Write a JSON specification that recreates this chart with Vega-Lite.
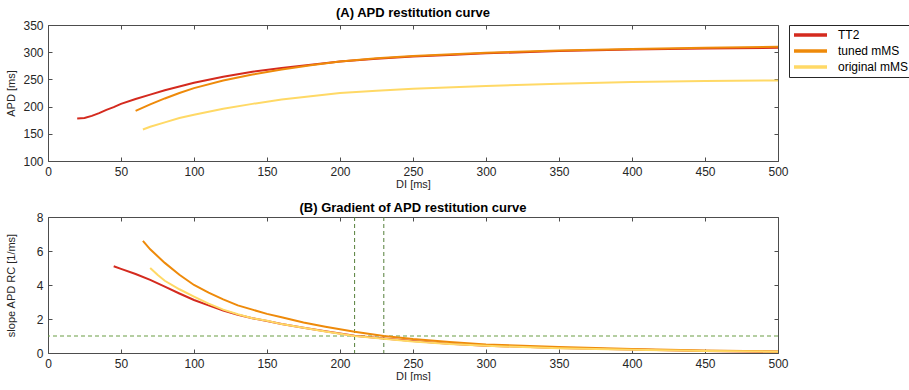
{
  "$schema": "https://vega.github.io/schema/vega-lite/v6.json",
  "padding": {"left": 5, "top": 7, "right": 0, "bottom": 0},
  "background": "white",
  "config": {
    "font": "Liberation Sans",
    "view": {"stroke": null},
    "axis": {
      "grid": false,
      "labelFont": "Liberation Sans",
      "labelFontSize": 12,
      "labelColor": "#262626",
      "labelFlush": false,
      "titleFont": "Liberation Sans",
      "titleFontSize": 11,
      "titleFontWeight": "normal",
      "titleColor": "#262626",
      "domainColor": "#4d4d4d",
      "tickColor": "#4d4d4d",
      "tickSize": -4,
      "labelPadding": 9
    },
    "title": {"font": "Liberation Sans", "fontSize": 13, "fontWeight": "bold", "color": "#000000", "offset": -1},
    "concat": {"spacing": 13}
  },
  "datasets": {
    "apd": [
      {"model": "TT2", "DI": 20, "APD": 178},
      {"model": "TT2", "DI": 25, "APD": 179},
      {"model": "TT2", "DI": 30, "APD": 183},
      {"model": "TT2", "DI": 35, "APD": 188},
      {"model": "TT2", "DI": 40, "APD": 194},
      {"model": "TT2", "DI": 45, "APD": 199},
      {"model": "TT2", "DI": 50, "APD": 205},
      {"model": "TT2", "DI": 60, "APD": 214},
      {"model": "TT2", "DI": 70, "APD": 222},
      {"model": "TT2", "DI": 80, "APD": 230},
      {"model": "TT2", "DI": 90, "APD": 237},
      {"model": "TT2", "DI": 100, "APD": 244},
      {"model": "TT2", "DI": 120, "APD": 255},
      {"model": "TT2", "DI": 140, "APD": 264},
      {"model": "TT2", "DI": 160, "APD": 271},
      {"model": "TT2", "DI": 180, "APD": 277},
      {"model": "TT2", "DI": 200, "APD": 283},
      {"model": "TT2", "DI": 225, "APD": 288},
      {"model": "TT2", "DI": 250, "APD": 292},
      {"model": "TT2", "DI": 275, "APD": 295},
      {"model": "TT2", "DI": 300, "APD": 298},
      {"model": "TT2", "DI": 350, "APD": 302},
      {"model": "TT2", "DI": 400, "APD": 305},
      {"model": "TT2", "DI": 450, "APD": 307},
      {"model": "TT2", "DI": 500, "APD": 308},
      {"model": "tuned mMS", "DI": 60, "APD": 192},
      {"model": "tuned mMS", "DI": 70, "APD": 204},
      {"model": "tuned mMS", "DI": 80, "APD": 215},
      {"model": "tuned mMS", "DI": 90, "APD": 225},
      {"model": "tuned mMS", "DI": 100, "APD": 234},
      {"model": "tuned mMS", "DI": 120, "APD": 248},
      {"model": "tuned mMS", "DI": 140, "APD": 259},
      {"model": "tuned mMS", "DI": 160, "APD": 268},
      {"model": "tuned mMS", "DI": 180, "APD": 276},
      {"model": "tuned mMS", "DI": 200, "APD": 283},
      {"model": "tuned mMS", "DI": 225, "APD": 289},
      {"model": "tuned mMS", "DI": 250, "APD": 293},
      {"model": "tuned mMS", "DI": 300, "APD": 299},
      {"model": "tuned mMS", "DI": 350, "APD": 303},
      {"model": "tuned mMS", "DI": 400, "APD": 306},
      {"model": "tuned mMS", "DI": 450, "APD": 308},
      {"model": "tuned mMS", "DI": 500, "APD": 310},
      {"model": "original mMS", "DI": 65, "APD": 158},
      {"model": "original mMS", "DI": 70, "APD": 163},
      {"model": "original mMS", "DI": 80, "APD": 171},
      {"model": "original mMS", "DI": 90, "APD": 179},
      {"model": "original mMS", "DI": 100, "APD": 185},
      {"model": "original mMS", "DI": 120, "APD": 196},
      {"model": "original mMS", "DI": 140, "APD": 205},
      {"model": "original mMS", "DI": 160, "APD": 213},
      {"model": "original mMS", "DI": 180, "APD": 219},
      {"model": "original mMS", "DI": 200, "APD": 225},
      {"model": "original mMS", "DI": 225, "APD": 229},
      {"model": "original mMS", "DI": 250, "APD": 233},
      {"model": "original mMS", "DI": 300, "APD": 238},
      {"model": "original mMS", "DI": 350, "APD": 242},
      {"model": "original mMS", "DI": 400, "APD": 245},
      {"model": "original mMS", "DI": 450, "APD": 247},
      {"model": "original mMS", "DI": 500, "APD": 248}
    ],
    "slope": [
      {"model": "TT2", "DI": 45, "slope": 5.1},
      {"model": "TT2", "DI": 50, "slope": 4.95},
      {"model": "TT2", "DI": 60, "slope": 4.65},
      {"model": "TT2", "DI": 70, "slope": 4.3},
      {"model": "TT2", "DI": 80, "slope": 3.9},
      {"model": "TT2", "DI": 90, "slope": 3.5},
      {"model": "TT2", "DI": 100, "slope": 3.12},
      {"model": "TT2", "DI": 110, "slope": 2.8},
      {"model": "TT2", "DI": 120, "slope": 2.5},
      {"model": "TT2", "DI": 130, "slope": 2.25},
      {"model": "TT2", "DI": 140, "slope": 2.05},
      {"model": "TT2", "DI": 150, "slope": 1.88},
      {"model": "TT2", "DI": 160, "slope": 1.7},
      {"model": "TT2", "DI": 175, "slope": 1.48},
      {"model": "TT2", "DI": 190, "slope": 1.28},
      {"model": "TT2", "DI": 210, "slope": 1.02},
      {"model": "TT2", "DI": 230, "slope": 0.86},
      {"model": "TT2", "DI": 250, "slope": 0.7},
      {"model": "TT2", "DI": 275, "slope": 0.55},
      {"model": "TT2", "DI": 300, "slope": 0.43},
      {"model": "TT2", "DI": 350, "slope": 0.3},
      {"model": "TT2", "DI": 400, "slope": 0.2},
      {"model": "TT2", "DI": 450, "slope": 0.12},
      {"model": "TT2", "DI": 500, "slope": 0.07},
      {"model": "tuned mMS", "DI": 65, "slope": 6.6},
      {"model": "tuned mMS", "DI": 70, "slope": 6.1},
      {"model": "tuned mMS", "DI": 80, "slope": 5.3},
      {"model": "tuned mMS", "DI": 90, "slope": 4.6},
      {"model": "tuned mMS", "DI": 100, "slope": 4.0},
      {"model": "tuned mMS", "DI": 110, "slope": 3.55},
      {"model": "tuned mMS", "DI": 120, "slope": 3.15},
      {"model": "tuned mMS", "DI": 130, "slope": 2.8},
      {"model": "tuned mMS", "DI": 140, "slope": 2.55},
      {"model": "tuned mMS", "DI": 150, "slope": 2.3},
      {"model": "tuned mMS", "DI": 160, "slope": 2.1},
      {"model": "tuned mMS", "DI": 175, "slope": 1.8},
      {"model": "tuned mMS", "DI": 190, "slope": 1.55},
      {"model": "tuned mMS", "DI": 210, "slope": 1.25},
      {"model": "tuned mMS", "DI": 230, "slope": 1.0},
      {"model": "tuned mMS", "DI": 250, "slope": 0.82},
      {"model": "tuned mMS", "DI": 275, "slope": 0.65},
      {"model": "tuned mMS", "DI": 300, "slope": 0.5},
      {"model": "tuned mMS", "DI": 350, "slope": 0.35},
      {"model": "tuned mMS", "DI": 400, "slope": 0.23},
      {"model": "tuned mMS", "DI": 450, "slope": 0.15},
      {"model": "tuned mMS", "DI": 500, "slope": 0.09},
      {"model": "original mMS", "DI": 70, "slope": 5.0},
      {"model": "original mMS", "DI": 75, "slope": 4.6},
      {"model": "original mMS", "DI": 80, "slope": 4.25},
      {"model": "original mMS", "DI": 90, "slope": 3.75},
      {"model": "original mMS", "DI": 100, "slope": 3.32},
      {"model": "original mMS", "DI": 110, "slope": 2.9},
      {"model": "original mMS", "DI": 120, "slope": 2.55},
      {"model": "original mMS", "DI": 130, "slope": 2.28},
      {"model": "original mMS", "DI": 140, "slope": 2.05},
      {"model": "original mMS", "DI": 150, "slope": 1.9},
      {"model": "original mMS", "DI": 160, "slope": 1.7},
      {"model": "original mMS", "DI": 175, "slope": 1.48},
      {"model": "original mMS", "DI": 190, "slope": 1.27},
      {"model": "original mMS", "DI": 210, "slope": 1.0},
      {"model": "original mMS", "DI": 230, "slope": 0.84},
      {"model": "original mMS", "DI": 250, "slope": 0.68},
      {"model": "original mMS", "DI": 275, "slope": 0.53},
      {"model": "original mMS", "DI": 300, "slope": 0.42},
      {"model": "original mMS", "DI": 350, "slope": 0.28},
      {"model": "original mMS", "DI": 400, "slope": 0.19},
      {"model": "original mMS", "DI": 450, "slope": 0.12},
      {"model": "original mMS", "DI": 500, "slope": 0.08}
    ],
    "threshold": [{"slope": 1}],
    "crossings": [{"DI": 210}, {"DI": 230}]
  },
  "vconcat": [
    {
      "width": 730,
      "height": 136,
      "title": "(A) APD restitution curve",
      "layer": [
        {
          "data": {"name": "apd"},
          "mark": {"type": "line", "strokeWidth": 2},
          "encoding": {
            "x": {"field": "DI", "type": "quantitative", "title": "DI [ms]",
                  "scale": {"domain": [0, 500], "nice": false},
                  "axis": {"values": [0, 50, 100, 150, 200, 250, 300, 350, 400, 450, 500], "titlePadding": 1}},
            "y": {"field": "APD", "type": "quantitative", "title": "APD [ms]",
                  "scale": {"domain": [100, 350], "nice": false, "zero": false},
                  "axis": {"values": [100, 150, 200, 250, 300, 350], "titlePadding": 6}},
            "color": {"field": "model", "type": "nominal",
                      "scale": {"domain": ["TT2", "tuned mMS", "original mMS"], "range": ["#D42A1E", "#EE8A0A", "#FFD966"]},
                      "legend": {"title": null, "orient": "right", "offset": 7, "strokeColor": "#262626", "fillColor": "white",
                                 "padding": 3, "symbolType": "M-1,0H5.6", "symbolSize": 100, "symbolStrokeWidth": 3.5,
                                 "labelFontSize": 12, "labelColor": "#000000", "labelOffset": 32, "rowPadding": 2}},
            "detail": {"field": "model"}
          }
        },
        {
          "data": {"name": "apd"},
          "mark": {"type": "line", "opacity": 0},
          "encoding": {
            "x": {"field": "DI", "type": "quantitative", "scale": {"domain": [0, 500], "nice": false}, "axis": {"orient": "top", "labels": false, "title": null, "values": [0, 50, 100, 150, 200, 250, 300, 350, 400, 450, 500]}},
            "y": {"field": "APD", "type": "quantitative", "scale": {"domain": [100, 350], "nice": false, "zero": false}, "axis": {"orient": "right", "labels": false, "title": null, "values": [100, 150, 200, 250, 300, 350]}},
            "detail": {"field": "model"}
          }
        }
      ],
      "resolve": {"axis": {"x": "independent", "y": "independent"}}
    },
    {
      "width": 730,
      "height": 136,
      "title": {"text": "(B) Gradient of APD restitution curve", "offset": -4},
      "layer": [
        {
          "data": {"name": "slope"},
          "mark": {"type": "line", "opacity": 0},
          "encoding": {
            "x": {"field": "DI", "type": "quantitative", "title": "DI [ms]",
                  "scale": {"domain": [0, 500], "nice": false},
                  "axis": {"values": [0, 50, 100, 150, 200, 250, 300, 350, 400, 450, 500], "titlePadding": 1}},
            "y": {"field": "slope", "type": "quantitative", "title": "slope APD RC [1/ms]",
                  "scale": {"domain": [0, 8], "nice": false},
                  "axis": {"values": [0, 2, 4, 6, 8], "titlePadding": 20}},
            "detail": {"field": "model"}
          }
        },
        {
          "data": {"name": "slope"},
          "mark": {"type": "line", "opacity": 0},
          "encoding": {
            "x": {"field": "DI", "type": "quantitative", "scale": {"domain": [0, 500], "nice": false}, "axis": {"orient": "top", "labels": false, "title": null, "values": [0, 50, 100, 150, 200, 250, 300, 350, 400, 450, 500]}},
            "y": {"field": "slope", "type": "quantitative", "scale": {"domain": [0, 8], "nice": false}, "axis": {"orient": "right", "labels": false, "title": null, "values": [0, 2, 4, 6, 8]}},
            "detail": {"field": "model"}
          }
        },
        {
          "data": {"name": "threshold"},
          "mark": {"type": "rule", "color": "#6A9E45", "strokeWidth": 1.2, "strokeDash": [4, 3]},
          "encoding": {"y": {"field": "slope", "type": "quantitative", "axis": null}}
        },
        {
          "data": {"name": "crossings"},
          "mark": {"type": "rule", "color": "#557F3A", "strokeWidth": 1, "strokeDash": [4, 3]},
          "encoding": {"x": {"field": "DI", "type": "quantitative", "axis": null}}
        },
        {
          "data": {"name": "slope"},
          "mark": {"type": "line", "strokeWidth": 2},
          "encoding": {
            "x": {"field": "DI", "type": "quantitative", "axis": null},
            "y": {"field": "slope", "type": "quantitative", "axis": null},
            "color": {"field": "model", "type": "nominal",
                      "scale": {"domain": ["TT2", "tuned mMS", "original mMS"], "range": ["#D42A1E", "#EE8A0A", "#FFD966"]},
                      "legend": null}
          }
        }
      ],
      "resolve": {"axis": {"x": "independent", "y": "independent"}}
    }
  ],
  "resolve": {"scale": {"color": "independent"}, "legend": {"color": "independent"}}
}
